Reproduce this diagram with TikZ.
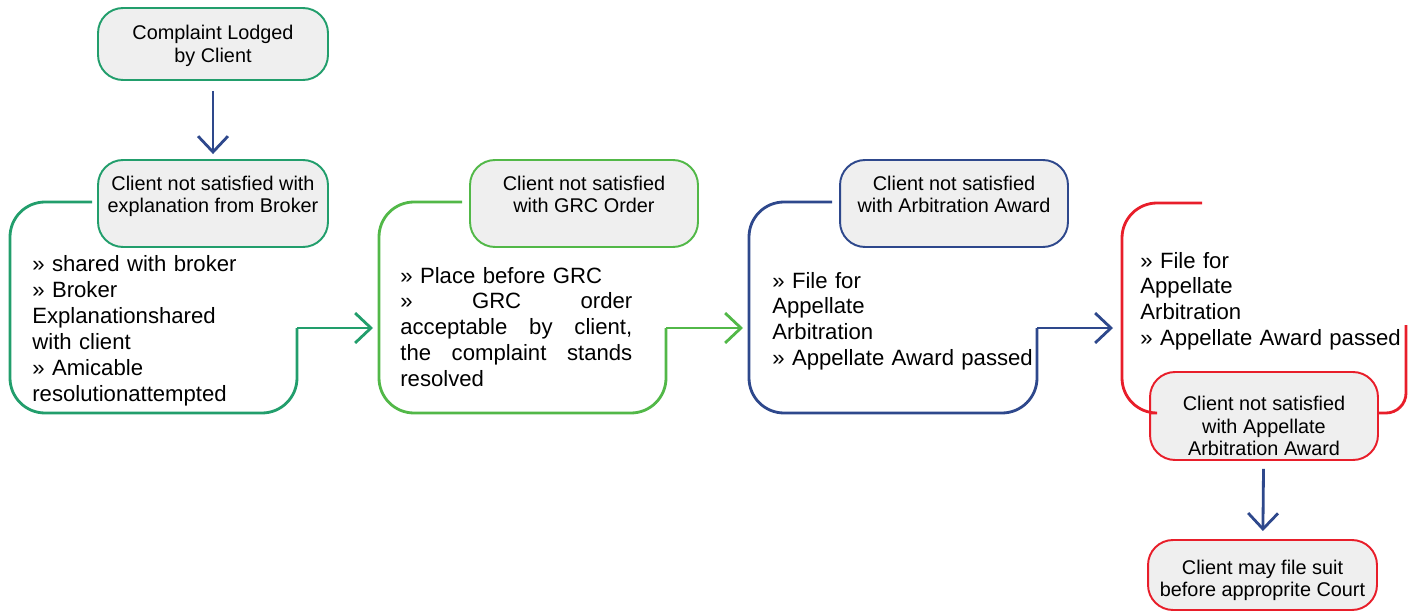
\documentclass[tikz,border=0pt]{standalone}
\usepackage{fontspec}
\setmainfont{Liberation Sans}
\usetikzlibrary{arrows.meta}
\definecolor{cgreen}{RGB}{34,158,108}
\definecolor{clime}{RGB}{82,184,72}
\definecolor{cblue}{RGB}{46,72,140}
\definecolor{cred}{RGB}{232,30,42}
\definecolor{cgray}{RGB}{239,239,239}
\newcommand{\hd}{\fontsize{11.3}{12.8}\selectfont}
\newcommand{\bd}{\fontsize{12.6}{14.7}\selectfont}

\begin{document}
\begin{tikzpicture}[x=0.02cm,y=-0.02cm,
   head/.style={draw,fill=cgray,line width=1.1pt,rounded corners=0.5cm,align=center,font=\hd,
                minimum width=4.56cm,minimum height=1.74cm,inner sep=0pt,text depth=0pt,text height=10.8pt},
   frame/.style={line width=1.6pt,rounded corners=0.7cm},
   link/.style={line width=1.6pt,-{Straight Barb[length=9pt,width=17pt]}},
   body/.style={anchor=base west,align=left,font=\bd,inner sep=0pt}]
   \useasboundingbox (0,0) rectangle (1416,611);
   % boxes
   \node[head,draw=cgreen,minimum width=4.6cm,minimum height=1.44cm,text height=21pt] (lodged) at (213,44) {Complaint Lodged\\by Client};
   \node[head,draw=cgreen,minimum width=4.6cm] (broker) at (213,203.5) {Client not satisfied with\\explanation from Broker};
   \node[head,draw=clime] (grc) at (584,203.5) {Client not satisfied\\ with GRC Order};
   \node[head,draw=cblue] (arb) at (954,203.5) {Client not satisfied\\with Arbitration Award};
   \node[head,draw=cred,minimum height=1.76cm,text height=45pt] (appl) at (1264,416) {Client not satisfied\\with Appellate\\Arbitration Award};
   \node[head,draw=cred,minimum width=4.58cm,minimum height=1.4cm,text height=25pt] (court) at (1262.5,575) {Client may file suit\\before approprite Court};
   % frames
   \draw[frame,cgreen] (92,202) -- (10,202) -- (10,413) -- (297,413) -- (297,328) coordinate (out1);
   \draw[frame,clime] (462,202) -- (379,202) -- (379,413) -- (666,413) -- (666,328) coordinate (out2);
   \draw[frame,cblue] (832,202) -- (749,202) -- (749,413) -- (1037,413) -- (1037,328) coordinate (out3);
   \draw[frame,cred] (1202,203) -- (1122,203) -- (1122,413) -- (appl.west |- 0,413);
   \draw[frame,cred,rounded corners=0.4cm] (appl.east |- 0,413) -- (1406,413) -- (1406,325);
   \coordinate (in2) at (373,328);
   \coordinate (in3) at (743,328);
   \coordinate (in4) at (1113,328);
   % texts
   \node[body,text width=4.3cm] (t1) at (32,272) {» shared with broker\\» Broker\\Explanationshared\\with client\\» Amicable\\resolutionattempted};
   \node[body,text width=4.64cm] (t2) at (400,283) {» Place before GRC\\»\hfill GRC\hfill order\\acceptable\hfill by\hfill client,\\the\hfill complaint\hfill stands\\resolved};
   \node[body,text width=5.4cm] (t3) at (772,288) {» File for\\Appellate\\Arbitration\\» Appellate Award passed};
   \node[body,text width=5.4cm] (t4) at (1140,268) {» File for\\Appellate\\Arbitration\\» Appellate Award passed};
   % arrows
   \draw[link,cblue,shorten <=0.2cm,shorten >=0.1cm] (lodged) -- (broker);
   \draw[link,cgreen] (out1) -- (in2);
   \draw[link,clime] (out2) -- (in3);
   \draw[link,cblue] (out3) -- (in4);
   \draw[link,cblue,shorten <=0.16cm,shorten >=0.16cm] (appl) -- (court);
\end{tikzpicture}
\end{document}
